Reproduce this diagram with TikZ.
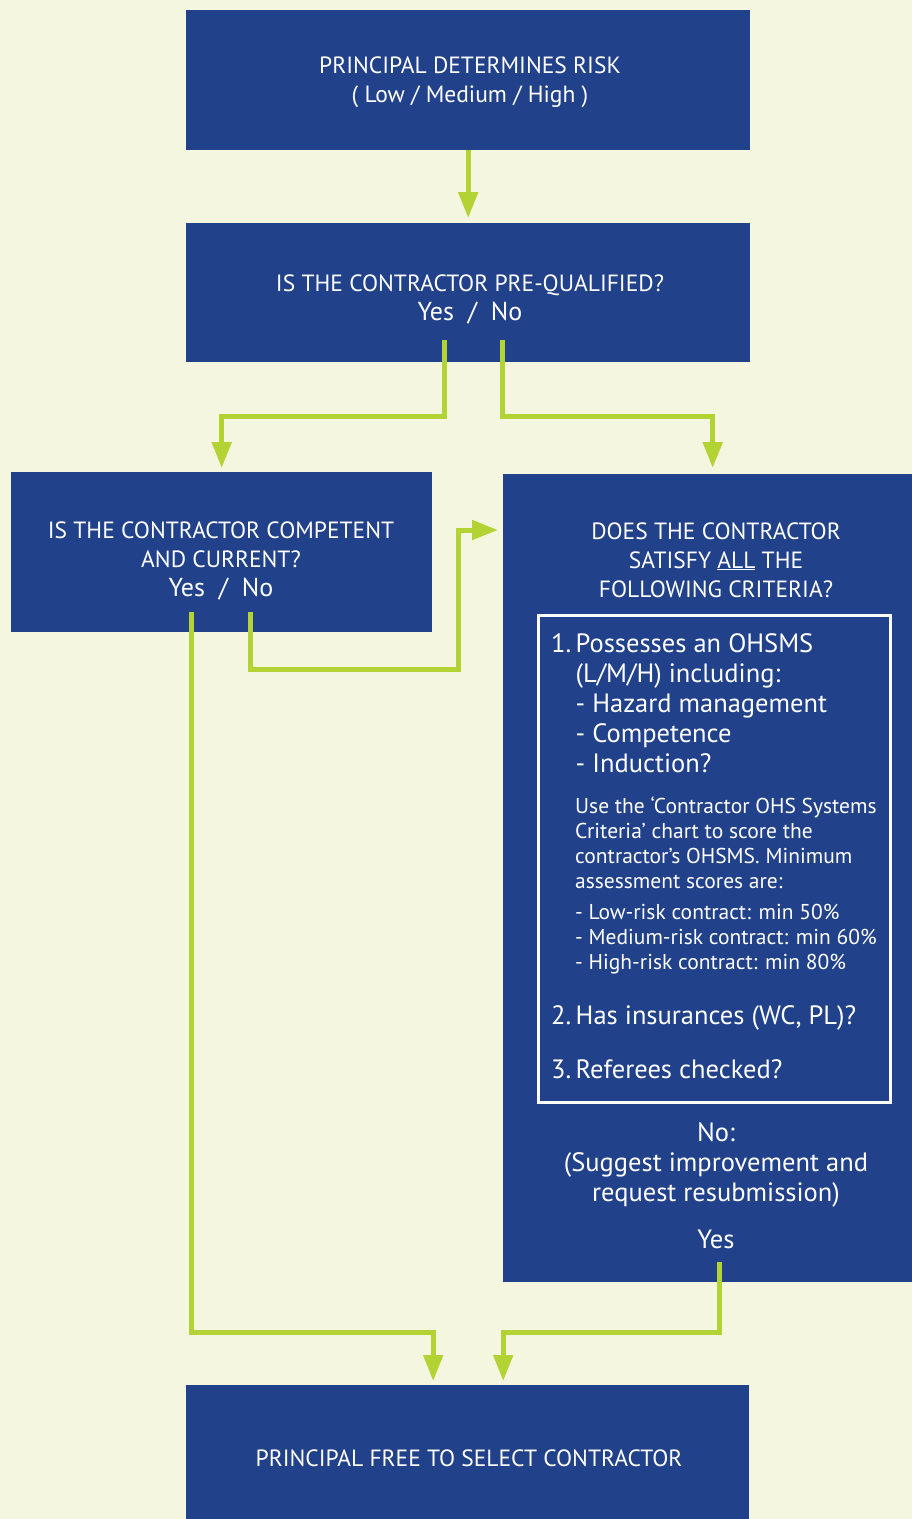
\documentclass[tikz,border=0pt]{standalone}
\usepackage{fontspec}
\setmainfont{PT Sans}
\usetikzlibrary{positioning,arrows.meta}

\definecolor{cream}{HTML}{F4F6DF}
\definecolor{navy}{HTML}{21418A}
\definecolor{lime}{HTML}{B3D334}

\begin{document}
\begin{tikzpicture}[x=1pt,y=-1pt,
    box/.style={fill=navy,inner sep=0pt,anchor=north west},
    head/.style={text=white,align=center,inner sep=0pt,font=\fontsize{23.5}{29}\selectfont},
    big/.style={text=white,inner sep=0pt,align=left,anchor=north west,font=\fontsize{26.5}{30}\selectfont},
    small/.style={text=white,inner sep=0pt,align=left,anchor=north west,font=\fontsize{21.5}{25}\selectfont},
    flow/.style={draw=lime,line width=5pt,-{Triangle[width=19pt,length=26pt]}}]

% background and page size
\path[use as bounding box,fill=cream] (0,0) rectangle (912,1519);

% boxes
\node[box,minimum width=564pt,minimum height=140pt] (risk) at (186,10) {};
\node[box,minimum width=564pt,minimum height=139pt] (preq) at (186,223) {};
\node[box,minimum width=421pt,minimum height=160pt] (comp) at (11,472) {};
\node[box,minimum width=419pt,minimum height=808pt] (crit) at (503,474) {};
\node[box,minimum width=563pt,minimum height=145pt] (free) at (186,1385) {};

% criteria frame
\node[draw=white,line width=3pt,inner sep=0pt,anchor=north west,
      minimum width=352pt,minimum height=487pt] (list) at (537,614) {};

% texts
\node[head] (risk-t) at (470,82) {PRINCIPAL DETERMINES RISK\\( Low / Medium / High )};
\node[head] (preq-t) at (470,299) {IS THE CONTRACTOR PRE-QUALIFIED?\\{\fontsize{26}{29}\selectfont Yes~~/~~No}};
\node[head] (comp-t) at (221,561) {IS THE CONTRACTOR COMPETENT\\AND CURRENT?\\{\fontsize{26}{29}\selectfont Yes~~/~~No}};
\node[head] (crit-t) at (716,560) {DOES THE CONTRACTOR\\SATISFY \underline{ALL} THE\\FOLLOWING CRITERIA?};
\node[head] (free-t) at (469,1458) {PRINCIPAL FREE TO SELECT CONTRACTOR};

\node[big] (item1) at (551,633) {1.\,Possesses an OHSMS\\
  \phantom{1.\,}(L/M/H) including:\\
  \phantom{1.\,}- Hazard management\\
  \phantom{1.\,}- Competence\\
  \phantom{1.\,}- Induction?};
\node[small] (note) at (575,797) {Use the ‘Contractor OHS Systems\\
  Criteria’ chart to score the\\
  contractor’s OHSMS. Minimum\\
  assessment scores are:};
\node[small] (mins) at (575,904) {- Low-risk contract: min 50\%\\
  - Medium-risk contract: min 60\%\\
  - High-risk contract: min 80\%};
\node[big] (item2) at (551,1005) {2.\,Has insurances (WC, PL)?};
\node[big] (item3) at (551,1059) {3.\,Referees checked?};

\node[big,anchor=center,align=center] (redo) at (716,1165) {No:\\(Suggest improvement and\\request resubmission)};
\node[big,anchor=center] (yes) at (716,1239) {Yes};

% connectors
\draw[flow] (risk.south) -- ([yshift=5pt]preq.north);
\draw[flow] ([xshift=-24pt,yshift=22pt]preq.south) -- ++(0,76) -| ([yshift=4pt]comp.north);
\draw[flow] ([xshift=34pt,yshift=22pt]preq.south) -- ++(0,76) -| ([yshift=6pt]crit.north);
\draw[flow] ([xshift=29pt,yshift=20pt]comp.south) -- ++(0,57) -- ++(208,0)
    |- ([xshift=-5pt,yshift=-56pt]crit.north west);
\draw[flow] ([xshift=-30pt,yshift=20pt]comp.south) -- ++(0,720) -| ([xshift=-34.5pt,yshift=4pt]free.north);
\draw[flow] ([xshift=6.5pt,yshift=20pt]crit.south) -- ++(0,70) -| ([xshift=35.5pt,yshift=4pt]free.north);

\end{tikzpicture}
\end{document}
